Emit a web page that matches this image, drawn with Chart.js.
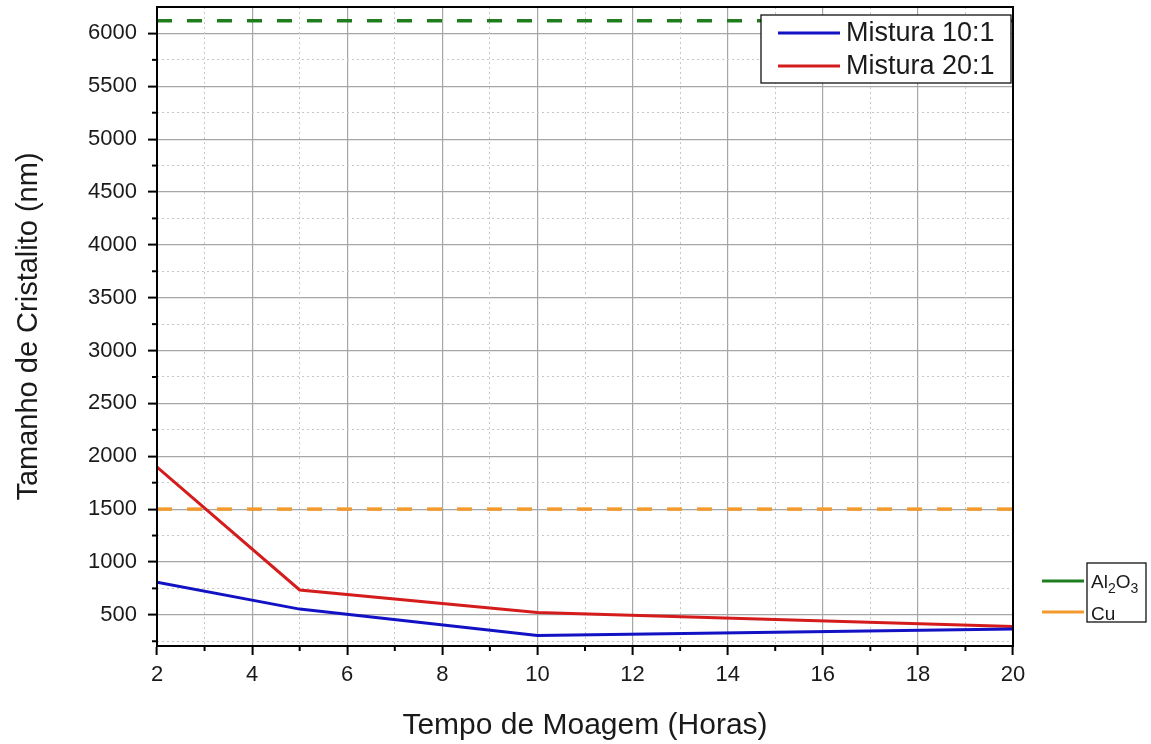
<!DOCTYPE html>
<html>
<head>
<meta charset="utf-8">
<script src="https://cdn.jsdelivr.net/npm/chart.js@4"></script>
<style>
  html, body { margin: 0; padding: 0; background: #fff; }
  #wrap { width: 1151px; height: 744px; position: relative; }
</style>
</head>
<body>
<div id="wrap"><canvas id="grafico"></canvas></div>
<script>
// dados
const horas = [2, 5, 10, 20];
const mistura10 = [808, 554, 305, 365];
const mistura20 = [1897, 735, 522, 389];
const refHoras = [2, 20];
const al2o3 = [6120, 6120];
const cu = [1500, 1500];
const xLim = [2, 20];
const yLim = [205, 6250];
const xTicks = [2, 4, 6, 8, 10, 12, 14, 16, 18, 20];
const xMenores = [3, 5, 7, 9, 11, 13, 15, 17, 19];
const yTicks = [500, 1000, 1500, 2000, 2500, 3000, 3500, 4000, 4500, 5000, 5500, 6000];
const yMenores = [250, 750, 1250, 1750, 2250, 2750, 3250, 3750, 4250, 4750, 5250, 5750];

const CORES = {
    m10: '#1212c4',
    m20: '#d41c1c',
    al2o3: '#1f7d1f',
    cu: '#f39a2e',
    major: '#a6a6a6',
    minor: '#c6c6c6'
};
const FONTE = "'Liberation Sans', Arial, sans-serif";

const pts = (xs, ys) => xs.map((x, i) => ({ x: x, y: ys[i] }));
const fixarTicks = (valores) => (s) => { s.ticks = valores.map(v => ({ value: v })); };

// legendas, ticks menores e moldura
const extras = {
    id: 'extras',
    afterDraw(chart) {
        const ctx = chart.ctx;
        const a = chart.chartArea;
        const sx = chart.scales.x, sy = chart.scales.y;
        ctx.save();

        ctx.strokeStyle = '#000';
        ctx.lineWidth = 2;
        xMenores.forEach(v => {
            const px = sx.getPixelForValue(v);
            ctx.beginPath(); ctx.moveTo(px, a.bottom); ctx.lineTo(px, a.bottom + 5); ctx.stroke();
        });
        yMenores.forEach(v => {
            const py = sy.getPixelForValue(v);
            ctx.beginPath(); ctx.moveTo(a.left, py); ctx.lineTo(a.left - 5, py); ctx.stroke();
        });

        ctx.strokeRect(a.left, a.top, a.right - a.left, a.bottom - a.top);

        // legenda interna
        ctx.fillStyle = '#fff';
        ctx.fillRect(761, 15, 250, 68);
        ctx.lineWidth = 1.3;
        ctx.strokeStyle = '#111';
        ctx.strokeRect(761, 15, 250, 68);
        ctx.font = '27px ' + FONTE;
        ctx.textBaseline = 'middle';
        [[CORES.m10, 'Mistura 10:1', 33], [CORES.m20, 'Mistura 20:1', 66]].forEach(([c, txt, y]) => {
            ctx.strokeStyle = c; ctx.lineWidth = 3;
            ctx.beginPath(); ctx.moveTo(778, y); ctx.lineTo(840, y); ctx.stroke();
            ctx.fillStyle = '#1a1a1a';
            ctx.fillText(txt, 846, y + 1);
        });

        // legenda externa
        ctx.lineWidth = 1.3;
        ctx.strokeStyle = '#111';
        ctx.strokeRect(1087, 563, 59, 59);
        ctx.lineWidth = 3;
        ctx.strokeStyle = CORES.al2o3;
        ctx.beginPath(); ctx.moveTo(1042, 581); ctx.lineTo(1084, 581); ctx.stroke();
        ctx.strokeStyle = CORES.cu;
        ctx.beginPath(); ctx.moveTo(1042, 612); ctx.lineTo(1084, 612); ctx.stroke();

        ctx.fillStyle = '#1a1a1a';
        ctx.textBaseline = 'alphabetic';
        let x = 1091;
        [['Al', false], ['2', true], ['O', false], ['3', true]].forEach(([s, sub]) => {
            ctx.font = (sub ? '14px ' : '19px ') + FONTE;
            ctx.fillText(s, x, sub ? 593 : 588);
            x += ctx.measureText(s).width;
        });
        ctx.font = '19px ' + FONTE;
        ctx.fillText('Cu', 1091, 620);
        ctx.restore();
    }
};

new Chart(document.getElementById('grafico'), {
    type: 'line',
    data: {
        datasets: [
            { label: 'Mistura 10:1', data: pts(horas, mistura10), borderColor: CORES.m10, borderWidth: 3 },
            { label: 'Mistura 20:1', data: pts(horas, mistura20), borderColor: CORES.m20, borderWidth: 3 },
            { label: 'Al2O3', data: pts(refHoras, al2o3), borderColor: CORES.al2o3, borderWidth: 3.5, borderDash: [15, 15] },
            { label: 'Cu', data: pts(refHoras, cu), borderColor: CORES.cu, borderWidth: 3.5, borderDash: [15, 15] }
        ]
    },
    options: {
        responsive: true,
        maintainAspectRatio: false,
        animation: false,
        layout: { padding: { top: 7, right: 138, left: 0, bottom: 0 } },
        elements: { point: { radius: 0 }, line: { tension: 0 } },
        plugins: { legend: { display: false }, tooltip: { enabled: false } },
        scales: {
            x: {
                type: 'linear', position: 'bottom', min: xLim[0], max: xLim[1],
                afterFit: s => { s.height = 98; s.paddingLeft = 0; s.paddingRight = 0; },
                afterBuildTicks: fixarTicks(xTicks),
                ticks: { padding: 7, color: '#1a1a1a', font: { family: FONTE, size: 22 }, callback: v => String(v) },
                grid: { color: CORES.major, lineWidth: 1.2, tickColor: '#000', tickLength: 9, tickWidth: 2 },
                border: { color: '#000', width: 2 },
                title: { display: true, text: 'Tempo de Moagem (Horas)', color: '#1a1a1a', font: { family: FONTE, size: 30 }, padding: { top: 4, bottom: 0 } }
            },
            y: {
                type: 'linear', position: 'left', min: yLim[0], max: yLim[1],
                afterFit: s => { s.width = 157; s.paddingTop = 0; s.paddingBottom = 0; },
                afterBuildTicks: fixarTicks(yTicks),
                ticks: { padding: 11, color: '#1a1a1a', font: { family: FONTE, size: 22 }, callback: v => String(v) },
                grid: { color: CORES.major, lineWidth: 1.2, tickColor: '#000', tickLength: 9, tickWidth: 2 },
                border: { color: '#000', width: 2 },
                title: { display: true, text: 'Tamanho de Cristalito (nm)', color: '#1a1a1a', font: { family: FONTE, size: 29 }, padding: { top: 12, bottom: 0 } }
            },
            x2: {
                type: 'linear', position: 'top', min: xLim[0], max: xLim[1],
                afterFit: s => { s.height = 0; s.paddingLeft = 0; s.paddingRight = 0; },
                afterBuildTicks: fixarTicks(xMenores),
                ticks: { display: false },
                grid: { drawTicks: false, lineWidth: 1, color: CORES.minor },
                border: { display: false, dash: [2, 3] }
            },
            y2: {
                type: 'linear', position: 'right', min: yLim[0], max: yLim[1],
                afterFit: s => { s.width = 0; s.paddingTop = 0; s.paddingBottom = 0; },
                afterBuildTicks: fixarTicks(yMenores),
                ticks: { display: false },
                grid: { drawTicks: false, lineWidth: 1, color: CORES.minor },
                border: { display: false, dash: [2, 3] }
            }
        }
    },
    plugins: [extras]
});
</script>
</body>
</html>
